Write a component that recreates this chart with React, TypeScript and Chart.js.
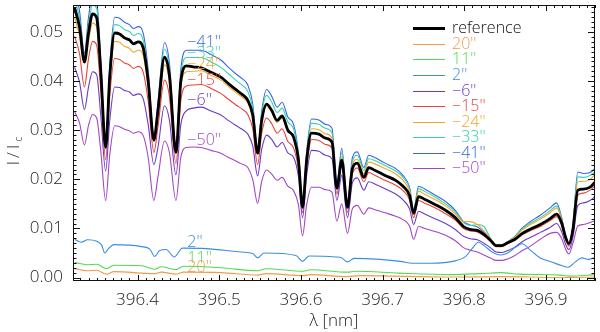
import { useEffect, useRef } from "react";
import { Chart, registerables } from "chart.js";

Chart.register(...registerables);

// Wavelength grid (nm) for the upper spectra
const wavelength = [
  396.323, 396.329, 396.335, 396.340, 396.345, 396.350, 396.355, 396.361, 396.366, 396.372,
  396.378, 396.384, 396.390, 396.395, 396.401, 396.407, 396.413, 396.420, 396.425, 396.433,
  396.439, 396.447, 396.453, 396.460, 396.468, 396.478, 396.490, 396.502, 396.512, 396.521,
  396.528, 396.535, 396.541, 396.547, 396.552, 396.558, 396.564, 396.571, 396.577, 396.584,
  396.591, 396.597, 396.602, 396.607, 396.613, 396.622, 396.630, 396.638, 396.644, 396.650,
  396.657, 396.663, 396.669, 396.677, 396.683, 396.691, 396.703, 396.716, 396.725, 396.733,
  396.738, 396.744, 396.752, 396.764, 396.777, 396.789, 396.799, 396.807, 396.816, 396.824,
  396.832, 396.839, 396.846, 396.853, 396.862, 396.871, 396.880, 396.893, 396.905, 396.913,
  396.919, 396.924, 396.928, 396.933, 396.939, 396.946, 396.954, 396.960,
];

const reference = [
  0.0549, 0.0510, 0.0439, 0.0498, 0.0537, 0.0529, 0.0420, 0.0265, 0.0410, 0.0498,
  0.0496, 0.0488, 0.0484, 0.0476, 0.0480, 0.0467, 0.0400, 0.0280, 0.0340, 0.0449,
  0.0412, 0.0255, 0.0400, 0.0431, 0.0429, 0.0427, 0.0418, 0.0408, 0.0394, 0.0382,
  0.0373, 0.0361, 0.0331, 0.0253, 0.0320, 0.0353, 0.0341, 0.0320, 0.0329, 0.0300,
  0.0286, 0.0239, 0.0143, 0.0239, 0.0294, 0.0292, 0.0284, 0.0276, 0.0182, 0.0239,
  0.0143, 0.0222, 0.0233, 0.0204, 0.0224, 0.0218, 0.0208, 0.0198, 0.0186, 0.0167,
  0.0131, 0.0165, 0.0159, 0.0149, 0.0137, 0.0122, 0.0104, 0.0098, 0.0096, 0.0088,
  0.0076, 0.0065, 0.0065, 0.0071, 0.0078, 0.0090, 0.0098, 0.0108, 0.0120, 0.0129,
  0.0112, 0.0082, 0.0069, 0.0098, 0.0178, 0.0180, 0.0184, 0.0194,
];

const minus41 = [
  0.0585, 0.0543, 0.0457, 0.0530, 0.0572, 0.0563, 0.0441, 0.0270, 0.0431, 0.0530,
  0.0528, 0.0520, 0.0515, 0.0507, 0.0511, 0.0497, 0.0424, 0.0286, 0.0357, 0.0478,
  0.0437, 0.0260, 0.0424, 0.0463, 0.0463, 0.0463, 0.0454, 0.0443, 0.0427, 0.0414,
  0.0405, 0.0392, 0.0354, 0.0258, 0.0339, 0.0383, 0.0370, 0.0347, 0.0357, 0.0327,
  0.0312, 0.0253, 0.0147, 0.0256, 0.0323, 0.0321, 0.0312, 0.0304, 0.0191, 0.0263,
  0.0149, 0.0244, 0.0256, 0.0224, 0.0249, 0.0244, 0.0233, 0.0222, 0.0208, 0.0184,
  0.0138, 0.0186, 0.0180, 0.0168, 0.0155, 0.0137, 0.0114, 0.0107, 0.0103, 0.0092,
  0.0078, 0.0065, 0.0066, 0.0073, 0.0084, 0.0101, 0.0113, 0.0127, 0.0142, 0.0152,
  0.0123, 0.0086, 0.0069, 0.0108, 0.0215, 0.0212, 0.0214, 0.0222,
];

const minus33 = [
  0.0568, 0.0528, 0.0448, 0.0515, 0.0556, 0.0548, 0.0432, 0.0268, 0.0422, 0.0515,
  0.0513, 0.0505, 0.0501, 0.0493, 0.0497, 0.0483, 0.0412, 0.0283, 0.0350, 0.0465,
  0.0425, 0.0258, 0.0412, 0.0448, 0.0448, 0.0448, 0.0439, 0.0428, 0.0414, 0.0401,
  0.0392, 0.0379, 0.0344, 0.0256, 0.0333, 0.0371, 0.0358, 0.0336, 0.0345, 0.0317,
  0.0303, 0.0248, 0.0146, 0.0251, 0.0314, 0.0312, 0.0304, 0.0295, 0.0187, 0.0254,
  0.0147, 0.0236, 0.0249, 0.0218, 0.0242, 0.0238, 0.0228, 0.0217, 0.0204, 0.0181,
  0.0136, 0.0181, 0.0175, 0.0164, 0.0150, 0.0134, 0.0112, 0.0106, 0.0108, 0.0104,
  0.0080, 0.0066, 0.0066, 0.0072, 0.0083, 0.0099, 0.0110, 0.0122, 0.0136, 0.0146,
  0.0121, 0.0085, 0.0069, 0.0106, 0.0205, 0.0204, 0.0208, 0.0215,
];

const minus24 = [
  0.0530, 0.0492, 0.0435, 0.0481, 0.0518, 0.0510, 0.0410, 0.0262, 0.0397, 0.0481,
  0.0479, 0.0471, 0.0467, 0.0459, 0.0463, 0.0451, 0.0388, 0.0277, 0.0330, 0.0433,
  0.0398, 0.0252, 0.0388, 0.0419, 0.0420, 0.0421, 0.0412, 0.0402, 0.0388, 0.0376,
  0.0367, 0.0356, 0.0327, 0.0252, 0.0318, 0.0349, 0.0337, 0.0316, 0.0325, 0.0297,
  0.0286, 0.0240, 0.0144, 0.0243, 0.0303, 0.0301, 0.0293, 0.0284, 0.0184, 0.0246,
  0.0145, 0.0229, 0.0241, 0.0212, 0.0235, 0.0231, 0.0222, 0.0211, 0.0198, 0.0176,
  0.0134, 0.0176, 0.0169, 0.0159, 0.0146, 0.0130, 0.0114, 0.0114, 0.0108, 0.0095,
  0.0079, 0.0066, 0.0066, 0.0072, 0.0082, 0.0097, 0.0107, 0.0119, 0.0132, 0.0142,
  0.0119, 0.0084, 0.0069, 0.0104, 0.0195, 0.0196, 0.0200, 0.0210,
];

const minus15 = [
  0.0491, 0.0456, 0.0388, 0.0446, 0.0481, 0.0473, 0.0380, 0.0240, 0.0370, 0.0446,
  0.0444, 0.0437, 0.0433, 0.0426, 0.0430, 0.0418, 0.0360, 0.0255, 0.0307, 0.0402,
  0.0369, 0.0232, 0.0360, 0.0390, 0.0392, 0.0393, 0.0385, 0.0375, 0.0362, 0.0351,
  0.0343, 0.0332, 0.0303, 0.0230, 0.0293, 0.0325, 0.0314, 0.0294, 0.0303, 0.0277,
  0.0264, 0.0220, 0.0132, 0.0224, 0.0281, 0.0279, 0.0271, 0.0264, 0.0170, 0.0228,
  0.0133, 0.0212, 0.0223, 0.0195, 0.0214, 0.0208, 0.0198, 0.0188, 0.0177, 0.0158,
  0.0122, 0.0157, 0.0151, 0.0142, 0.0130, 0.0117, 0.0100, 0.0095, 0.0093, 0.0085,
  0.0074, 0.0063, 0.0063, 0.0069, 0.0076, 0.0087, 0.0095, 0.0104, 0.0116, 0.0124,
  0.0107, 0.0078, 0.0064, 0.0094, 0.0168, 0.0172, 0.0178, 0.0187,
];

const minus6 = [
  0.0428, 0.0398, 0.0342, 0.0388, 0.0419, 0.0413, 0.0330, 0.0217, 0.0320, 0.0388,
  0.0387, 0.0381, 0.0378, 0.0371, 0.0374, 0.0364, 0.0312, 0.0230, 0.0265, 0.0350,
  0.0321, 0.0209, 0.0312, 0.0340, 0.0345, 0.0347, 0.0339, 0.0331, 0.0319, 0.0309,
  0.0302, 0.0292, 0.0268, 0.0207, 0.0261, 0.0290, 0.0282, 0.0266, 0.0275, 0.0254,
  0.0245, 0.0205, 0.0122, 0.0208, 0.0259, 0.0257, 0.0249, 0.0242, 0.0157, 0.0208,
  0.0122, 0.0193, 0.0203, 0.0178, 0.0195, 0.0190, 0.0181, 0.0170, 0.0158, 0.0140,
  0.0108, 0.0135, 0.0129, 0.0120, 0.0110, 0.0098, 0.0084, 0.0079, 0.0077, 0.0070,
  0.0061, 0.0052, 0.0051, 0.0055, 0.0062, 0.0073, 0.0081, 0.0092, 0.0102, 0.0110,
  0.0094, 0.0068, 0.0057, 0.0083, 0.0147, 0.0152, 0.0157, 0.0165,
];

const minus50 = [
  0.0338, 0.0315, 0.0270, 0.0310, 0.0332, 0.0325, 0.0258, 0.0157, 0.0250, 0.0309,
  0.0307, 0.0302, 0.0299, 0.0294, 0.0297, 0.0289, 0.0245, 0.0157, 0.0205, 0.0278,
  0.0255, 0.0157, 0.0245, 0.0265, 0.0266, 0.0265, 0.0259, 0.0253, 0.0244, 0.0237,
  0.0231, 0.0224, 0.0200, 0.0151, 0.0196, 0.0219, 0.0211, 0.0198, 0.0204, 0.0186,
  0.0177, 0.0148, 0.0085, 0.0148, 0.0184, 0.0184, 0.0179, 0.0174, 0.0115, 0.0150,
  0.0090, 0.0140, 0.0147, 0.0129, 0.0142, 0.0138, 0.0132, 0.0125, 0.0118, 0.0105,
  0.0078, 0.0104, 0.0100, 0.0094, 0.0086, 0.0075, 0.0061, 0.0056, 0.0052, 0.0046,
  0.0040, 0.0035, 0.0035, 0.0038, 0.0045, 0.0055, 0.0063, 0.0078, 0.0090, 0.0092,
  0.0080, 0.0058, 0.0048, 0.0070, 0.0105, 0.0108, 0.0112, 0.0116,
];

// Lower spectra (own wavelength grids)
const wavelength2 = [
  396.323, 396.331, 396.339, 396.350, 396.356, 396.360, 396.365, 396.371, 396.405, 396.415,
  396.421, 396.427, 396.435, 396.445, 396.455, 396.484, 396.527, 396.541, 396.547, 396.555,
  396.594, 396.602, 396.610, 396.642, 396.650, 396.657, 396.665, 396.722, 396.736, 396.759,
  396.789, 396.801, 396.810, 396.817, 396.825, 396.834, 396.844, 396.853, 396.863, 396.871,
  396.880, 396.893, 396.908, 396.920, 396.927, 396.936, 396.944, 396.952, 396.960,
];
const arcsec2 = [
  0.0078, 0.0072, 0.0077, 0.0074, 0.0066, 0.0050, 0.0060, 0.0067, 0.0063, 0.0058,
  0.0043, 0.0055, 0.0057, 0.0042, 0.0060, 0.0059, 0.0052, 0.0049, 0.0040, 0.0050,
  0.0045, 0.0033, 0.0044, 0.0042, 0.0040, 0.0032, 0.0039, 0.0033, 0.0029, 0.0029,
  0.0034, 0.0042, 0.0060, 0.0072, 0.0064, 0.0052, 0.0046, 0.0050, 0.0062, 0.0069,
  0.0057, 0.0040, 0.0031, 0.0024, 0.0021, 0.0032, 0.0040, 0.0037, 0.0041,
];

const wavelength11 = [
  396.323, 396.338, 396.350, 396.362, 396.371, 396.405, 396.421, 396.429, 396.447, 396.456,
  396.502, 396.547, 396.557, 396.603, 396.612, 396.657, 396.667, 396.720, 396.782, 396.820,
  396.844, 396.868, 396.917, 396.929, 396.960,
];
const arcsec11 = [
  0.0031, 0.0026, 0.0027, 0.0018, 0.0025, 0.0024, 0.0017, 0.0022, 0.0016, 0.0023,
  0.0020, 0.0014, 0.0018, 0.0013, 0.0016, 0.0011, 0.0013, 0.0009, 0.0006, 0.0008,
  0.0010, 0.0007, 0.0005, 0.0003, 0.0006,
];

const wavelength20 = [
  396.323, 396.338, 396.350, 396.362, 396.371, 396.421, 396.429, 396.447, 396.456, 396.502,
  396.547, 396.557, 396.603, 396.612, 396.657, 396.673, 396.783, 396.844, 396.917, 396.960,
];
const arcsec20 = [
  0.0018, 0.0014, 0.0015, 0.0007, 0.0012, 0.0008, 0.0011, 0.0007, 0.0011, 0.0010,
  0.0005, 0.0008, 0.0004, 0.0006, 0.0002, 0.0004, 0.0001, 0.0002, 0.0000, 0.0001,
];

const xTickValues = [396.4, 396.5, 396.6, 396.7, 396.8, 396.9];
const yTickValues = [0.0, 0.01, 0.02, 0.03, 0.04, 0.05];

const legendLabels = ["reference", "20''", "11''", "2''", "\u22126''", "\u221215''", "\u221224''", "\u221233''", "\u221241''", "\u221250''"];

const COLORS: Record<string, string> = {
  reference: "#000000",
  "20''": "#f29a4c",
  "11''": "#4fdc4f",
  "2''": "#3a8ee0",
  "\u22126''": "#6a3ac8",
  "\u221215''": "#e8423a",
  "\u221224''": "#f2a62c",
  "\u221233''": "#35d4b0",
  "\u221241''": "#3866e0",
  "\u221250''": "#a446c8",
};

const FONT = "Open Sans";
const WEIGHT = 300;

function pts(xs: number[], ys: number[]) {
  return xs.map((x, i) => ({ x, y: ys[i] }));
}

// in-plot annotation labels: [text, wavelength, value]
const inPlotLabels: [string, number, number][] = [
  ["\u221241''", 396.461, 0.0478],
  ["\u221233''", 396.461, 0.0457],
  ["\u221224''", 396.461, 0.0433],
  ["\u221215''", 396.461, 0.0402],
  ["\u22126''", 396.461, 0.0361],
  ["\u221250''", 396.461, 0.0280],
  ["2''", 396.461, 0.0071],
  ["11''", 396.461, 0.0039],
  ["20''", 396.461, 0.0020],
];

export default function App() {
  const ref = useRef<HTMLCanvasElement | null>(null);

  useEffect(() => {
    document.body.style.margin = "0";
    const canvas = ref.current;
    if (!canvas) return;

    const seriesData: Record<string, { x: number; y: number }[]> = {
      reference: pts(wavelength, reference),
      "20''": pts(wavelength20, arcsec20),
      "11''": pts(wavelength11, arcsec11),
      "2''": pts(wavelength2, arcsec2),
      "\u22126''": pts(wavelength, minus6),
      "\u221215''": pts(wavelength, minus15),
      "\u221224''": pts(wavelength, minus24),
      "\u221233''": pts(wavelength, minus33),
      "\u221241''": pts(wavelength, minus41),
      "\u221250''": pts(wavelength, minus50),
    };

    const datasets = legendLabels.map((lab, i) => ({
      label: lab,
      data: seriesData[lab],
      borderColor: COLORS[lab],
      backgroundColor: COLORS[lab],
      borderWidth: lab === "reference" ? 2.8 : 1.1,
      pointRadius: 0,
      cubicInterpolationMode: "monotone",
      fill: false,
      order: i,
    }));

    const decor = {
      id: "decor",
      afterDatasetsDraw(chart: any) {
        const { ctx, chartArea: a } = chart;
        const x = chart.scales.x;
        const y = chart.scales.y;
        ctx.save();
        // frame
        ctx.strokeStyle = "#111";
        ctx.lineWidth = 1;
        ctx.strokeRect(a.left + 0.5, a.top + 0.5, a.right - a.left - 1, a.bottom - a.top - 1);
        // ticks
        ctx.beginPath();
        for (let i = Math.ceil(x.min * 100); i <= Math.floor(x.max * 100); i++) {
          const px = Math.round(x.getPixelForValue(i / 100)) + 0.5;
          const len = i % 10 === 0 ? 6 : 3;
          ctx.moveTo(px, a.bottom);
          ctx.lineTo(px, a.bottom - len);
          ctx.moveTo(px, a.top);
          ctx.lineTo(px, a.top + len);
        }
        for (let i = Math.ceil(y.min * 1000); i <= Math.floor(y.max * 1000); i++) {
          const py = Math.round(y.getPixelForValue(i / 1000)) + 0.5;
          const len = i % 10 === 0 ? 7 : 3.5;
          ctx.moveTo(a.left, py);
          ctx.lineTo(a.left + len, py);
          ctx.moveTo(a.right, py);
          ctx.lineTo(a.right - len, py);
        }
        ctx.stroke();

        // legend
        const lx0 = 413, lx1 = 445, tx = 452, top = 28.3, step = 15.55;
        ctx.font = `${WEIGHT} 16px "${FONT}"`;
        ctx.textBaseline = "middle";
        ctx.textAlign = "left";
        legendLabels.forEach((lab, i) => {
          const yy = Math.round(top + step * i) + 0.5;
          ctx.strokeStyle = COLORS[lab];
          ctx.lineWidth = lab === "reference" ? 3 : 1;
          ctx.beginPath();
          ctx.moveTo(lx0, yy);
          ctx.lineTo(lx1, yy);
          ctx.stroke();
          ctx.fillStyle = lab === "reference" ? "#111" : COLORS[lab];
          ctx.fillText(lab, tx, yy);
        });

        // in-plot labels
        inPlotLabels.forEach(([t, wl, v]) => {
          ctx.fillStyle = COLORS[t];
          ctx.fillText(t, x.getPixelForValue(wl), y.getPixelForValue(v));
        });

        // axis titles
        ctx.fillStyle = "#222";
        ctx.font = `${WEIGHT} 17px "${FONT}"`;
        ctx.textAlign = "center";
        ctx.fillText("\u03bb [nm]", (a.left + a.right) / 2, 321);

        ctx.translate(14, 150);
        ctx.rotate(-Math.PI / 2);
        ctx.textAlign = "left";
        ctx.font = `${WEIGHT} 17px "${FONT}"`;
        (ctx as any).letterSpacing = "3px";
        const w = ctx.measureText("I/I").width;
        const cw = 7;
        const start = -(w + cw) / 2;
        ctx.fillText("I/I", start, 0);
        ctx.font = `${WEIGHT} 11px "${FONT}"`;
        ctx.fillText("c", start + w, 5);
        ctx.restore();
      },
    };

    const chart = new Chart(canvas, {
      type: "line",
      data: { datasets },
      options: {
        animation: false,
        responsive: false,
        parsing: false,
        normalized: true,
        events: [],
        layout: { padding: { top: 5, right: 5, left: 0, bottom: 0 } },
        plugins: { legend: { display: false }, tooltip: { enabled: false }, title: { display: false } },
        scales: {
          x: {
            type: "linear",
            min: 396.321,
            max: 396.96,
            grid: { display: false, drawTicks: false },
            border: { display: false },
            afterBuildTicks: (s: any) => {
              s.ticks = xTickValues.map((v) => ({ value: v }));
            },
            ticks: {
              includeBounds: false,
              maxRotation: 0,
              autoSkip: false,
              padding: 9,
              color: "#222",
              font: { family: FONT, size: 17, weight: WEIGHT },
              callback: (v: any) => Number(v).toFixed(1),
            },
            afterFit: (s: any) => {
              s.height = 51;
              s.paddingLeft = 0;
              s.paddingRight = 0;
            },
          },
          y: {
            type: "linear",
            min: -0.0007,
            max: 0.0555,
            grid: { display: false, drawTicks: false },
            border: { display: false },
            afterBuildTicks: (s: any) => {
              s.ticks = yTickValues.map((v) => ({ value: v }));
            },
            ticks: {
              includeBounds: false,
              autoSkip: false,
              padding: 10,
              color: "#222",
              font: { family: FONT, size: 17, weight: WEIGHT },
              callback: (v: any) => Number(v).toFixed(2),
            },
            afterFit: (s: any) => {
              s.width = 73;
              s.paddingTop = 0;
              s.paddingBottom = 0;
            },
          },
        },
      },
      plugins: [decor],
    } as any);

    return () => chart.destroy();
  }, []);

  return (
    <div style={{ position: "absolute", left: 0, top: 0, width: 600, height: 332, background: "#fff" }}>
      <canvas ref={ref} width={600} height={332} style={{ display: "block" }} />
    </div>
  );
}
